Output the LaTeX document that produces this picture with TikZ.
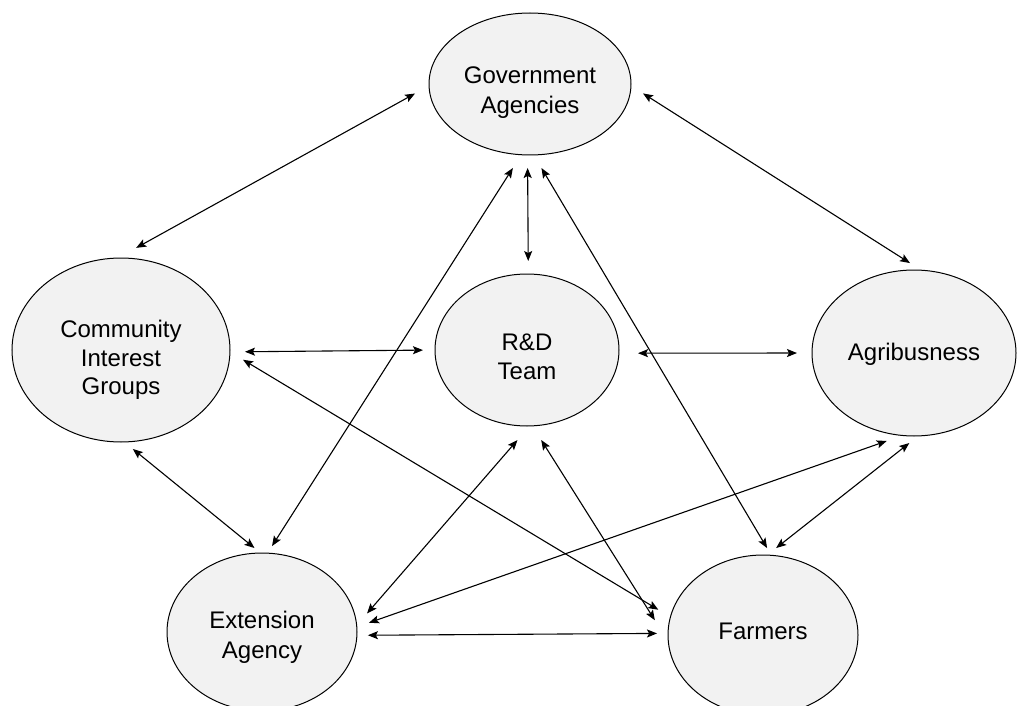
\documentclass[tikz,border=0pt]{standalone}
\usepackage{fontspec}
\setmainfont{Liberation Sans}
\usetikzlibrary{arrows.meta,shapes.geometric}
\definecolor{nodefill}{HTML}{F2F2F2}
\begin{document}
\begin{tikzpicture}[x=1pt,y=-1pt,
  ent/.style={ellipse, draw=black, line width=1pt, fill=nodefill, inner sep=0pt, outer sep=0pt},
  lbl/.style={inner sep=0pt, align=center, font=\fontsize{24}{29.5}\selectfont},
  link/.style={{Stealth[length=10pt,width=8pt,inset=2pt]}-{Stealth[length=10pt,width=8pt,inset=2pt]}, line width=1.1pt}]
\useasboundingbox (0,0) rectangle (1018,706);
\clip (0,0) rectangle (1018,706);
\node[ent, minimum width=202pt, minimum height=142pt] (gov) at (530,84) {};
\node[ent, minimum width=218pt, minimum height=184pt] (com) at (121,350) {};
\node[ent, minimum width=184pt, minimum height=152pt] (rd) at (527,350) {};
\node[ent, minimum width=204pt, minimum height=166pt] (agri) at (914,353) {};
\node[ent, minimum width=190pt, minimum height=158pt] (ext) at (262,632) {};
\node[ent, minimum width=190pt, minimum height=160pt] (farm) at (763,635) {};

\node[lbl] (govtext) at (530,92.5) {Government\\Agencies};
\node[lbl, font=\fontsize{24}{28.5}\selectfont] (comtext) at (121,360) {Community\\Interest\\Groups};
\node[lbl] (rdtext) at (527,357) {R\&D\\Team};
\node[lbl] (agritext) at (914,354) {Agribusness};
\node[lbl] (exttext) at (262,637.5) {Extension\\Agency};
\node[lbl] (farmtext) at (763,631.5) {Farmers};

\draw[link, shorten <=16pt, shorten >=21pt] (gov.181.8) -- (com.92.7);
\draw[link, shorten <=14.3pt, shorten >=13.3pt] (gov.359.8) -- (agri.85.7);
\draw[link, shorten <=13pt, shorten >=13pt] (gov.268.4) -- (rd.89.2);
\draw[link, shorten <=15.7pt, shorten >=8.4pt] (gov.263.1) -- (ext.86.0);
\draw[link, shorten <=15.2pt, shorten >=8.4pt] (gov.273.5) -- (farm.84.8);
\draw[link, shorten <=15pt, shorten >=12pt] (com.359.5) -- (rd.180.6);
\draw[link, shorten <=19.1pt, shorten >=15pt] (rd.358.1) -- (agri.180);
\draw[link, shorten <=15.2pt, shorten >=14.1pt] (com.359.4) -- (farm.169.8);
\draw[link, shorten <=11.1pt, shorten >=7.9pt] (com.272.1) -- (ext.91.4);
\draw[link, shorten <=18.6pt, shorten >=15.8pt] (rd.272.4) -- (ext.4.3);
\draw[link, shorten <=16.7pt, shorten >=25.3pt] (rd.274.7) -- (farm.184.5);
\draw[link, shorten <=12.9pt, shorten >=16.6pt] (ext.3.4) -- (agri.262.9);
\draw[link, shorten <=11.5pt, shorten >=11.4pt] (agri.273.5) -- (farm.87.1);
\draw[link, shorten <=11pt, shorten >=11pt] (ext.358.8) -- (farm.179.4);
\end{tikzpicture}
\end{document}
